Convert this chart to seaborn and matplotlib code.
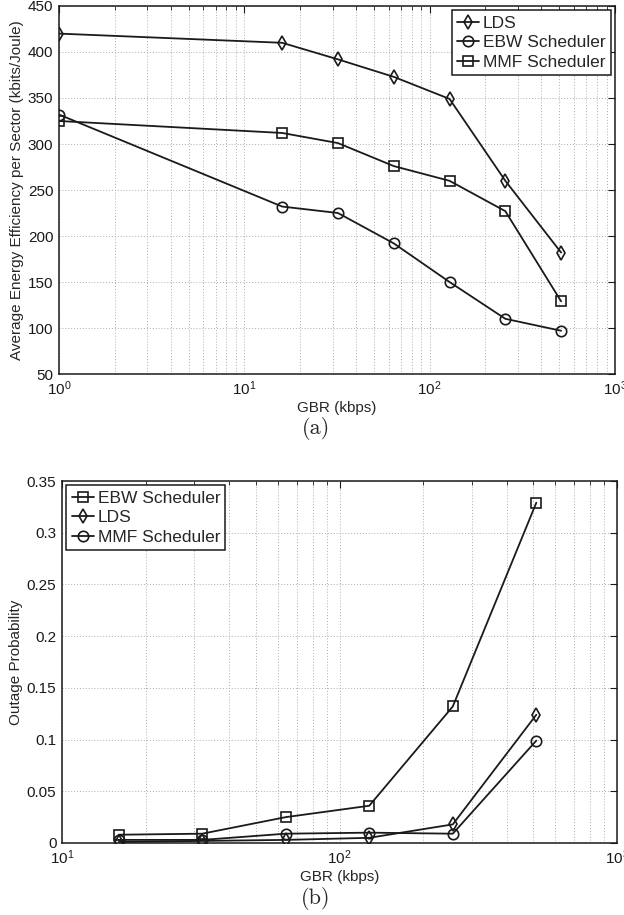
import matplotlib
matplotlib.use("Agg")
import matplotlib.pyplot as plt
import seaborn as sns
import numpy as np
from matplotlib.ticker import LogLocator, NullFormatter, FixedLocator, FixedFormatter

# ---------------- data ----------------
gbr_a = [1, 16, 32, 64, 128, 256, 512]
lds_a = [420, 410, 392, 373, 349, 260, 182]
ebw_a = [332, 232, 225, 192, 150, 110, 97]
mmf_a = [325, 312, 301, 276, 260, 227, 129]

gbr_b = [16, 32, 64, 128, 256, 512]
ebw_b = [0.008, 0.009, 0.025, 0.036, 0.132, 0.329]
lds_b = [0.001, 0.002, 0.003, 0.005, 0.018, 0.124]
mmf_b = [0.003, 0.003, 0.009, 0.010, 0.009, 0.099]

yticks_a = [50, 100, 150, 200, 250, 300, 350, 400, 450]
yticks_b = [0, 0.05, 0.1, 0.15, 0.2, 0.25, 0.3, 0.35]
ylabels_b = ["0", "0.05", "0.1", "0.15", "0.2", "0.25", "0.3", "0.35"]

# ---------------- style ----------------
sns.set_theme(style="white")
plt.rcParams["font.family"] = ["Liberation Sans", "DejaVu Sans"]
plt.rcParams["mathtext.fontset"] = "custom"
plt.rcParams["mathtext.rm"] = "Liberation Sans"
plt.rcParams["mathtext.it"] = "Liberation Sans:italic"
plt.rcParams["mathtext.bf"] = "Liberation Sans:bold"

W, H = 624, 915
fig = plt.figure(figsize=(W / 100, H / 100), dpi=100)
ax1 = fig.add_axes([59 / W, 1 - 374 / H, (615 - 59) / W, (374 - 6) / H])
ax2 = fig.add_axes([62 / W, 1 - 843 / H, (617 - 62) / W, (843 - 481) / H])

line_kw = dict(color="k", linewidth=1.3, markersize=7.5, markerfacecolor="none",
               markeredgecolor="k", markeredgewidth=1.2)


def draw(ax, x, series):
    for name, y, m in series:
        sns.lineplot(x=x, y=y, marker=m, label=name, ax=ax, **line_kw)


draw(ax1, gbr_a, [("LDS", lds_a, "d"), ("EBW Scheduler", ebw_a, "o"),
                  ("MMF Scheduler", mmf_a, "s")])
draw(ax2, gbr_b, [("EBW Scheduler", ebw_b, "s"), ("LDS", lds_b, "d"),
                  ("MMF Scheduler", mmf_b, "o")])


def style_axes(ax, xlim):
    ax.set_xscale("log")
    ax.set_xlim(*xlim)
    ax.xaxis.set_major_locator(LogLocator(base=10, numticks=10))
    ax.xaxis.set_minor_locator(LogLocator(base=10, subs=np.arange(2, 10), numticks=20))
    ax.xaxis.set_minor_formatter(NullFormatter())
    ax.grid(True, which="major", axis="both", linestyle=(0, (1, 2)), color="0.68", linewidth=0.7)
    ax.grid(True, which="minor", axis="x", linestyle=(0, (1, 2)), color="0.68", linewidth=0.7)
    ax.tick_params(which="both", direction="in", top=True, right=True,
                   labelsize=11, colors="k", pad=4)
    ax.tick_params(which="major", length=5, width=0.8)
    ax.tick_params(which="minor", length=3, width=0.6)
    for s in ax.spines.values():
        s.set_color("k")
        s.set_linewidth(1.1)
    ax.set_xlabel("GBR (kbps)", fontsize=11, labelpad=2)


style_axes(ax1, (1, 1000))
ax1.set_ylim(50, 450)
ax1.yaxis.set_major_locator(FixedLocator(yticks_a))
ax1.set_ylabel("Average Energy Efficiency per Sector (kbits/Joule)", fontsize=11, labelpad=3)

style_axes(ax2, (10, 1000))
ax2.set_ylim(0, 0.35)
ax2.yaxis.set_major_locator(FixedLocator(yticks_b))
ax2.yaxis.set_major_formatter(FixedFormatter(ylabels_b))
ax2.set_ylabel("Outage Probability", fontsize=11, labelpad=3)

leg_kw = dict(fontsize=12.5, frameon=True, fancybox=False, edgecolor="k",
              handlelength=1.3, handletextpad=0.2, borderpad=0.3,
              labelspacing=0.25, borderaxespad=0.25, framealpha=1)
l1 = ax1.legend(loc="upper right", **leg_kw)
l2 = ax2.legend(loc="upper left", **leg_kw)
for l in (l1, l2):
    l.get_frame().set_linewidth(1.1)

fig.text(316 / W, 1 - 429 / H, "(a)", fontfamily="cmr10", fontsize=16,
         ha="center", va="center")
fig.text(316 / W, 1 - 898 / H, "(b)", fontfamily="cmr10", fontsize=16,
         ha="center", va="center")

fig.savefig("out.png", dpi=100)
